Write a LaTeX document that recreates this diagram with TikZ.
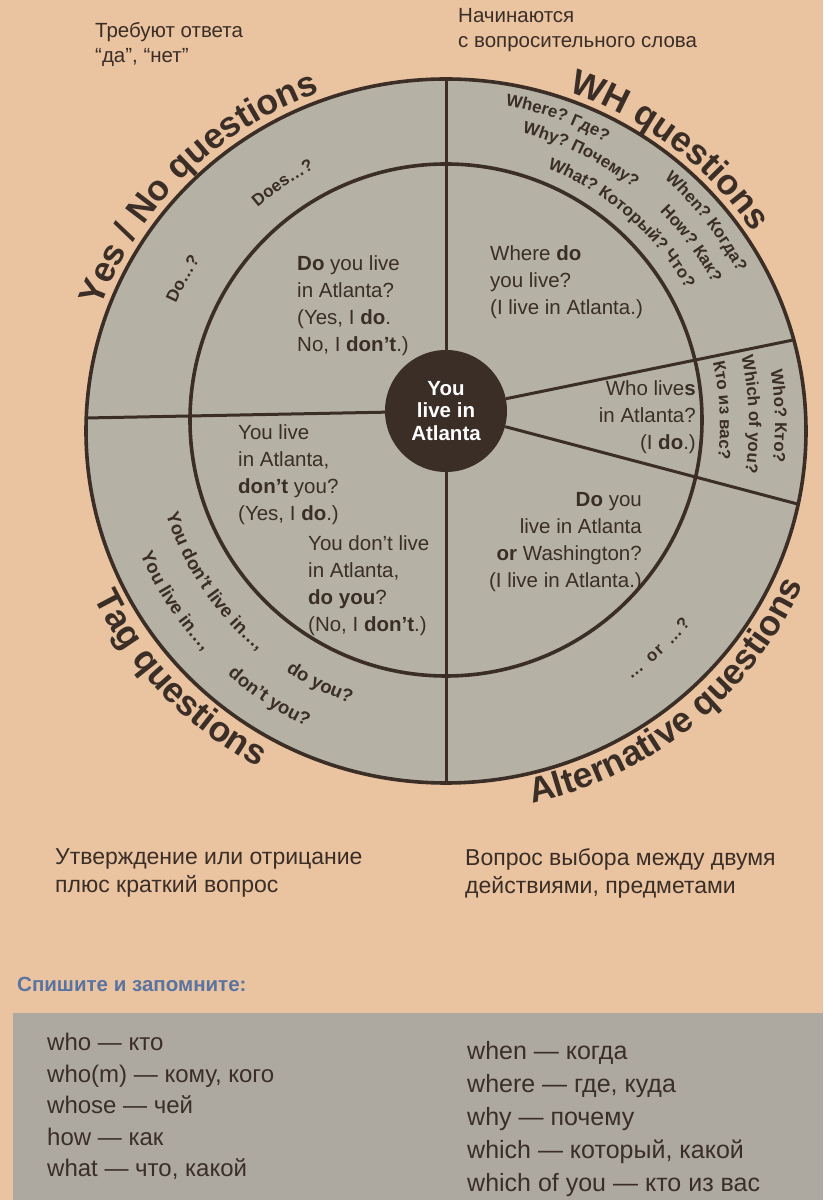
\documentclass[tikz,border=0pt]{standalone}
\usepackage{fontspec}
\setmainfont{Liberation Sans}
\usetikzlibrary{decorations.text}
\definecolor{paper}{HTML}{EAC3A0}
\definecolor{ringgray}{HTML}{B6B1A5}
\definecolor{ink}{HTML}{3A2E27}
\definecolor{boxgray}{HTML}{AEA9A0}
\definecolor{headblue}{HTML}{5A74A2}
\newcommand\ttlfont{\fontsize{35.5}{35.5}\selectfont\bfseries}
\newcommand\ringfont{\fontsize{17}{17}\selectfont\bfseries}
\newcommand\tagringfont{\fontsize{18.5}{18.5}\selectfont\bfseries}
\begin{document}
\begin{tikzpicture}[x=1pt,y=1pt,
  ttl/.style={decorate, decoration={text along path, text color=ink, text align=center, text={|\ttlfont|#1}}},
  ringtxt/.style={decorate, decoration={text along path, text color=ink, text align=center, text={|\ringfont|#1}}},
  tagring/.style={decorate, decoration={text along path, text color=ink, text align=center, text={|\tagringfont|#1}}},
  ringfit/.style={decorate, decoration={text along path, text color=ink, text align=fit to path, text={|\ringfont|#1}}},
  qtext/.style={inner sep=0pt, text=ink, font=\fontsize{20.5}{27}\selectfont},
  toplabel/.style={inner sep=0pt, anchor=north west, align=left, text=ink, font=\fontsize{20.5}{25}\selectfont},
  botlabel/.style={inner sep=0pt, anchor=north west, align=left, text=ink, font=\fontsize{23}{28}\selectfont},
  listtext/.style={inner sep=0pt, anchor=north west, align=left, text=ink, font=\fontsize{24}{31.5}\selectfont},
  bigline/.style={draw=ink, line width=3.6pt},
  spoke/.style={draw=ink, line width=3pt}]
% canvas
\fill[paper] (0,0) rectangle (823,1200);
\useasboundingbox (0,0) rectangle (823,1200);
% bottom grey box
\fill[boxgray] (13,0) rectangle (823,187);

\coordinate (O) at (446,769);
\coordinate (I) at (446,780);
\coordinate (R) at (446,775);

% disc
\fill[ringgray] (O) ellipse [x radius=360, y radius=352];
\draw[bigline] (I) circle [radius=256];
\draw[bigline] (O) ellipse [x radius=360, y radius=352];

% centre
\node[circle, fill=ink, minimum size=122pt, inner sep=0pt, text=white, align=center,
      font=\fontsize{20.5}{22.5}\selectfont\bfseries] (ctr) at (446,789) {You\\live in\\Atlanta};

\coordinate (oT) at ([shift={(O)}]90:360 and 352);
\coordinate (oB) at ([shift={(O)}]270:360 and 352);
\coordinate (oL) at (86,782);
\coordinate (oUR) at ([shift={(O)}]15:360 and 352);
\coordinate (oLR) at ([shift={(O)}]-12:360 and 352);
\draw[spoke] (ctr) -- (oT);
\draw[spoke] (ctr) -- (oB);
\draw[spoke] (ctr) -- (oL);
\draw[spoke] (ctr) -- (oUR);
\draw[spoke] (ctr) -- (oLR);

% big curved titles
\path[ttl={Yes / No questions}] ([shift={(O)}]161:368 and 360) arc[start angle=161, end angle=109, x radius=368, y radius=360];
\path[ttl={WH questions}] ([shift={(O)}]71:368 and 360) arc[start angle=71, end angle=33, x radius=368, y radius=360];
\path[ttl={Tag questions}] ([shift={(O)}]204:391 and 383) arc[start angle=204, end angle=243, x radius=391, y radius=383];
\path[ttl={Alternative questions}] ([shift={(O)}]-79:390 and 382) arc[start angle=-79, end angle=-22, x radius=390, y radius=382];

% ring texts
\path[ringtxt={Do…?}] ([shift={(R)}]158:296) arc[start angle=158, end angle=144, radius=296];
\path[ringtxt={Does…?}] ([shift={(R)}]133:288) arc[start angle=133, end angle=115, radius=288];

\path[ringtxt={Where? Где?}] ([shift={(R)}]81:325) arc[start angle=81, end angle=59, radius=325];
\path[ringtxt={When? Когда?}] ([shift={(R)}]50:329) arc[start angle=50, end angle=26, radius=329];
\path[ringtxt={Why? Почему?}] ([shift={(R)}]77:302) arc[start angle=77, end angle=50, radius=302];
\path[ringtxt={How? Как?}] ([shift={(R)}]47:302) arc[start angle=47, end angle=26, radius=302];
\path[ringtxt={What? Который? Что?}] ([shift={(R)}]71:276) arc[start angle=71, end angle=27, radius=276];

\path[ringtxt={Who? Кто?}] ([shift={(R)}]11:329) arc[start angle=11, end angle=-8, radius=329];
\path[ringtxt={Which of you?}] ([shift={(R)}]14:303) arc[start angle=14, end angle=-10, radius=303];
\path[ringtxt={Кто из вас?}] ([shift={(R)}]14:274) arc[start angle=14, end angle=-8, radius=274];

\path[tagring={You don’t live in…,}] ([shift={(R)}]196:294) arc[start angle=196, end angle=232, radius=294];
\path[tagring={do you?}] ([shift={(R)}]235:294) arc[start angle=235, end angle=253, radius=294];
\path[tagring={You live in…,}] ([shift={(R)}]201:332) arc[start angle=201, end angle=225, radius=332];
\path[tagring={don’t you?}] ([shift={(R)}]227:332) arc[start angle=227, end angle=247, radius=332];
\path[ringfit={… or …?}] ([shift={(R)}]-54:315) arc[start angle=-54, end angle=-39, radius=315];

% quadrant texts
\node[qtext, anchor=north west, align=left] (qul) at (297,945)
  {\textbf{Do} you live\\in Atlanta?\\(Yes, I \textbf{do}.\\No, I \textbf{don’t}.)};
\node[qtext, anchor=north west, align=left] (qur) at (490,955)
  {Where \textbf{do}\\you live?\\(I live in Atlanta.)};
\node[qtext, anchor=north east, align=right] (qwho) at (696,820)
  {Who live\textbf{s}\\in Atlanta?\\(I \textbf{do}.)};
\node[qtext, anchor=north west, align=left] (qll) at (238,776)
  {You live\\in Atlanta,\\\textbf{don’t} you?\\(Yes, I \textbf{do}.)};
\node[qtext, anchor=north west, align=left] (qll2) at (308,665)
  {You don’t live\\in Atlanta,\\\textbf{do you}?\\(No, I \textbf{don’t}.)};
\node[qtext, anchor=north east, align=right] (qlr) at (642,708)
  {\textbf{Do} you\\live in Atlanta\\\textbf{or} Washington?\\(I live in Atlanta.)};

% outside labels
\node[toplabel] (lyn) at (95,1178) {Требуют ответа\\“да”, “нет”};
\node[toplabel] (lwh) at (458,1192) {Начинаются\\с вопросительного слова};
\node[botlabel] (ltag) at (55,352) {Утверждение или отрицание\\плюс краткий вопрос};
\node[botlabel] (lalt) at (465,352) {Вопрос выбора между двумя\\действиями, предметами};

\node[inner sep=0pt, anchor=north west, text=headblue, font=\fontsize{20.5}{24}\selectfont\bfseries] (head) at (17,223) {Спишите и запомните:};
\node[listtext] (listL) at (47,167) {who — кто\\who(m) — кому, кого\\whose — чей\\how — как\\what — что, какой};
\node[listtext, font=\fontsize{25}{33}\selectfont] (listR) at (467,159) {when — когда\\where — где, куда\\why — почему\\which — который, какой\\which of you — кто из вас};
\end{tikzpicture}
\end{document}
